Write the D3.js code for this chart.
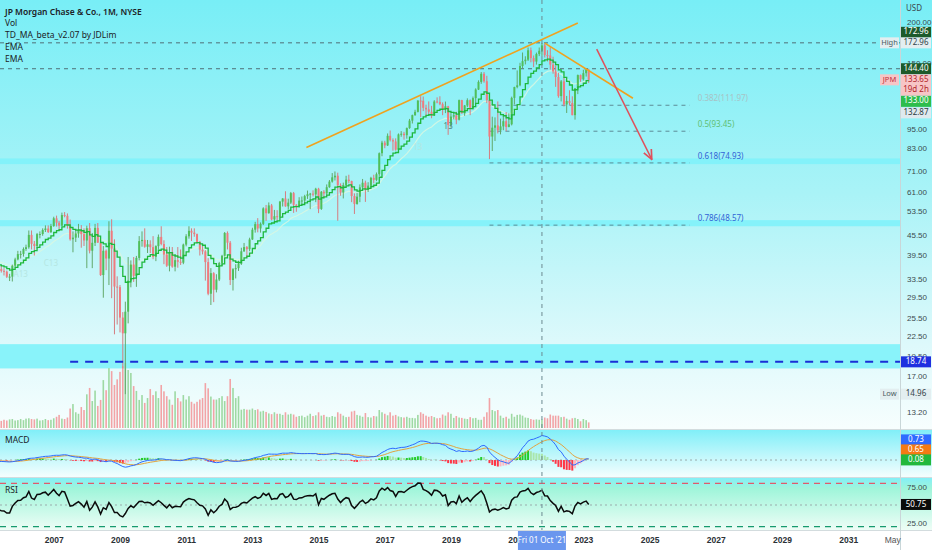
<!DOCTYPE html>
<html>
<head>
<meta charset="utf-8">
<script src="https://cdn.jsdelivr.net/npm/d3@7"></script>
<style>
  body { margin: 0; background: #fff; }
  svg { display: block; font-family: "Noto Sans", "DejaVu Sans", sans-serif; }
</style>
</head>
<body>
<svg id="chart" width="932" height="550"></svg>
<script>
// JPM monthly bars, Jan 2004 .. Mar 2023.
// Bars before May 2005 sit left of the view, they only warm up the indicators.
const firstMonth = new Date(2004, 0, 1);
const firstOpen = 36.7;

const closes = [
  39.0, 41.0, 41.95, 37.6, 36.86, 38.77, 37.33, 38.0, 39.73, 38.59, 37.65, 39.01,
  37.33, 36.56, 34.6, 35.49, 35.75, 35.32, 35.14, 33.89, 33.93, 36.62, 38.25, 39.69,
  39.75, 41.14, 41.64, 45.38, 42.64, 42.0, 45.62, 45.66, 46.96, 47.44, 46.27, 48.3,
  50.93, 49.4, 48.38, 52.1, 51.83, 48.45, 44.01, 44.52, 45.82, 47.0, 45.62, 43.65,
  47.55, 40.65, 42.95, 47.65, 43.0, 34.31, 40.63, 38.49, 46.7, 41.25, 31.66, 31.53,
  25.51, 22.86, 26.58, 33.0, 36.9, 34.11, 38.65, 43.46, 43.82, 41.77, 42.49, 41.67,
  38.94, 41.97, 44.75, 42.58, 39.58, 36.61, 40.28, 36.36, 38.06, 37.63, 37.39, 42.42,
  44.94, 46.69, 46.1, 45.63, 43.24, 40.94, 40.45, 37.56, 30.12, 34.76, 30.97, 33.25,
  37.3, 39.24, 45.98, 42.98, 33.15, 35.73, 36.0, 37.14, 40.48, 41.68, 41.08, 43.97,
  47.05, 48.92, 47.46, 49.01, 54.59, 52.79, 55.73, 50.53, 51.69, 51.54, 57.22, 58.48,
  55.36, 56.82, 60.71, 55.98, 55.57, 57.62, 57.67, 59.45, 60.24, 60.48, 60.16, 62.58,
  54.38, 61.28, 60.58, 63.26, 65.78, 67.76, 68.53, 64.1, 60.97, 64.25, 66.68, 66.03,
  59.5, 56.3, 59.22, 63.2, 65.27, 62.14, 63.97, 67.51, 66.59, 69.26, 80.17, 86.29,
  84.63, 90.5, 87.84, 87.0, 82.15, 91.4, 91.8, 90.89, 95.51, 100.61, 104.52, 106.94,
  115.67, 115.5, 109.97, 108.78, 107.01, 104.2, 114.95, 114.58, 112.84, 109.02, 111.17, 97.62,
  103.5, 104.38, 101.23, 116.05, 105.96, 111.8, 116.0, 109.86, 117.69, 124.92, 131.76, 139.4,
  132.36, 116.11, 90.03, 95.76, 97.31, 94.06, 96.64, 100.19, 96.27, 98.04, 117.88, 127.07,
  128.67, 147.18, 152.23, 153.81, 164.24, 155.54, 151.78, 159.95, 163.69, 169.89, 158.83, 158.35,
  148.6, 141.81, 136.32, 119.36, 132.22, 112.61, 115.36, 113.73, 104.5, 125.88, 138.18, 134.1,
  139.97, 143.35, 133.65
];

const highs = [
  39.8, 42.5, 43.0, 42.5, 38.5, 39.3, 39.4, 38.5, 40.3, 40.5, 39.2, 39.7,
  39.3, 37.5, 36.9, 36.2, 36.5, 36.5, 36.0, 35.4, 34.6, 36.9, 38.7, 40.6,
  40.6, 41.6, 42.4, 46.8, 46.8, 43.5, 46.0, 46.5, 47.5, 48.5, 48.5, 49.0,
  51.5, 51.9, 50.0, 53.0, 53.2, 52.7, 50.5, 46.5, 47.0, 49.0, 48.6, 47.5,
  48.4, 49.3, 46.0, 49.0, 49.3, 43.6, 42.0, 41.0, 49.9, 50.6, 44.0, 34.0,
  32.0, 26.5, 28.5, 38.9, 38.0, 38.9, 39.2, 45.0, 46.5, 47.5, 43.8, 43.7,
  45.0, 42.2, 45.5, 48.2, 43.7, 41.7, 41.8, 41.7, 39.7, 41.7, 41.0, 42.7,
  45.6, 48.2, 47.5, 47.5, 45.8, 43.5, 42.5, 40.8, 38.6, 36.0, 35.0, 34.5,
  37.6, 39.5, 46.3, 46.5, 43.5, 36.0, 37.0, 37.9, 41.5, 42.9, 42.0, 44.5,
  47.7, 49.7, 51.0, 49.5, 55.0, 55.9, 56.9, 56.3, 54.0, 53.9, 57.5, 58.6,
  61.5, 58.4, 61.2, 61.2, 56.2, 59.0, 59.3, 60.0, 61.8, 60.8, 61.9, 63.0,
  63.0, 61.6, 62.0, 64.5, 66.5, 69.8, 70.6, 70.0, 65.0, 65.3, 68.5, 69.0,
  66.2, 60.6, 60.8, 64.5, 67.0, 66.2, 65.5, 68.0, 69.0, 70.1, 80.6, 87.4,
  87.4, 92.0, 93.9, 88.9, 88.9, 92.0, 93.5, 93.0, 95.9, 101.8, 104.9, 108.5,
  116.0, 119.3, 119.0, 112.4, 115.0, 111.5, 116.0, 118.3, 119.2, 114.2, 114.9, 111.5,
  106.0, 106.9, 107.0, 116.5, 116.3, 112.2, 117.5, 116.6, 119.0, 126.0, 133.2, 141.1,
  141.1, 137.5, 118.0, 103.4, 102.9, 115.0, 102.0, 104.0, 106.8, 105.8, 118.9, 127.4,
  142.7, 150.5, 161.7, 157.5, 167.4, 167.4, 158.4, 161.6, 167.4, 172.96, 172.3, 164.3,
  169.0, 157.0, 147.7, 140.4, 133.5, 136.0, 119.5, 124.3, 119.2, 126.3, 138.7, 138.7,
  143.4, 144.34, 144.4
];

const lows = [
  36.3, 38.5, 38.6, 37.4, 35.8, 36.3, 36.5, 36.3, 37.8, 37.8, 36.8, 37.0,
  36.8, 36.0, 34.3, 33.4, 34.3, 34.9, 34.2, 33.6, 32.9, 32.8, 36.2, 38.0,
  38.5, 39.0, 40.6, 41.2, 41.0, 39.3, 41.3, 44.3, 45.1, 46.3, 46.0, 46.0,
  48.0, 48.1, 46.7, 48.3, 51.3, 47.4, 43.6, 40.2, 43.2, 44.5, 41.5, 42.0,
  36.0, 39.9, 36.0, 42.0, 42.9, 34.1, 29.3, 35.5, 32.0, 29.2, 22.7, 24.3,
  23.0, 17.9, 14.96, 24.5, 31.5, 32.7, 31.6, 38.0, 41.8, 41.5, 40.0, 40.0,
  38.3, 37.8, 41.0, 42.2, 37.0, 36.3, 35.2, 36.1, 35.2, 36.1, 36.8, 37.0,
  41.9, 44.2, 43.5, 44.8, 42.8, 39.3, 39.6, 33.0, 29.8, 27.85, 28.4, 30.4,
  32.9, 36.6, 39.0, 41.0, 32.0, 30.8, 33.5, 35.3, 36.8, 40.3, 38.8, 40.5,
  43.8, 46.1, 46.2, 46.1, 48.6, 50.0, 52.6, 50.2, 50.0, 50.1, 51.3, 55.3,
  55.2, 54.2, 56.3, 52.9, 53.3, 54.9, 55.9, 56.2, 58.3, 54.3, 59.3, 57.0,
  52.8, 54.0, 58.6, 59.7, 63.0, 65.3, 66.3, 50.07, 59.6, 58.5, 64.0, 65.0,
  57.0, 52.5, 56.0, 57.0, 62.6, 57.1, 61.2, 63.0, 65.0, 66.0, 68.4, 78.5,
  83.0, 84.3, 87.0, 81.6, 81.6, 81.8, 89.9, 88.1, 88.7, 95.0, 98.6, 104.0,
  106.5, 103.0, 107.5, 104.0, 105.0, 102.3, 103.9, 113.5, 112.0, 104.5, 106.0, 91.1,
  95.9, 101.5, 98.1, 100.7, 105.5, 104.0, 110.5, 104.5, 108.8, 113.1, 124.5, 130.0,
  131.0, 113.6, 76.91, 81.4, 87.3, 92.0, 91.4, 94.1, 93.5, 96.0, 97.3, 112.6,
  126.0, 127.8, 144.5, 148.8, 152.4, 151.0, 146.0, 148.6, 157.7, 157.9, 156.2, 151.9,
  143.5, 139.5, 127.3, 118.0, 115.0, 111.0, 106.1, 112.0, 104.4, 101.3, 121.0, 131.8,
  133.0, 136.7, 130.8
];

// millions of shares per month
const volumes = [
  250, 240, 260, 270, 250, 220, 210, 200, 210, 230, 220, 210,
  220, 200, 230, 230, 210, 190, 220, 200, 230, 240, 200, 210,
  240, 210, 250, 260, 240, 230, 250, 200, 210, 240, 210, 220,
  260, 300, 350, 250, 240, 280, 520, 640, 420, 380, 560, 480,
  900, 1070, 720, 1000, 590, 750, 1280, 1010, 1600, 1520, 1150, 1300,
  1500, 1650, 1740, 1550, 1470, 1120, 990, 750, 880, 670, 800, 1040,
  880, 980, 800, 1150, 980, 850, 760, 620, 980, 800, 710, 880,
  760, 850, 700, 650, 700, 760, 800, 1200, 1060, 840, 760, 760,
  800, 850, 720, 850, 1310, 1070, 800, 850, 490, 510, 490, 490,
  520, 480, 500, 440, 460, 430, 390, 370, 420, 380, 380, 350,
  420, 360, 380, 360, 300, 320, 330, 290, 330, 380, 320, 340,
  420, 330, 350, 300, 290, 320, 300, 420, 380, 330, 290, 300,
  440, 460, 350, 330, 300, 400, 290, 280, 320, 310, 480, 420,
  380, 340, 420, 330, 350, 310, 290, 280, 300, 270, 270, 260,
  350, 420, 380, 330, 300, 320, 290, 260, 270, 360, 330, 420,
  380, 270, 320, 280, 270, 250, 240, 290, 260, 270, 220, 220,
  300, 420, 800, 480, 450, 480, 330, 270, 300, 250, 380, 300,
  350, 360, 330, 280, 270, 240, 220, 230, 220, 230, 280, 260,
  360, 330, 330, 330, 290, 300, 250, 220, 260, 270, 240, 180,
  240, 210, 150
];

const priceTicks = [200, 150, 95, 83, 71, 61, 53.5, 45.5, 39.5, 33.5, 29.5, 25.5, 22.5, 19.5, 17, 13.2];
const yearTicks = [2007, 2009, 2011, 2013, 2015, 2017, 2019, 2021, 2023, 2025, 2027, 2029, 2031];
const rsiTicks = [75, 25];

// drawings on the chart
const fibLevels = ["0.382", "0.5", "0.618", "0.786"];
const fibPrices = [111.97, 93.45, 74.93, 48.57];
const fibStart = new Date(2020, 2, 1), fibEnd = new Date(2026, 2, 20);
const zones = [[74.3, 77.3], [48.2, 50.3], [17.9, 21.2]];
const supportLevel = 18.74, supportStart = new Date(2007, 6, 1);
const allTimeHigh = 172.96, periodLow = 14.96, recentHigh = 144.40;
const upTrend = [[new Date(2014, 7, 20), 83.4], [new Date(2022, 10, 1), 198.6]];
const downTrend = [[new Date(2021, 10, 1), 172.6], [new Date(2024, 6, 1), 117.6]];
const arrowPath = [[new Date(2023, 4, 28), 165.5], [new Date(2025, 0, 25), 76.8]];
const crosshairDate = new Date(2021, 9, 1);
const tdLabels = [
  [new Date(2006, 0, 1), 34.3, "A13"], [new Date(2006, 11, 1), 37.1, "C13"],
  [new Date(2018, 0, 1), 83.1, "13"], [new Date(2018, 11, 1), 96.2, "13"]
];

// last values shown on the scales
const lastClose = 133.65, emaLast = [133.00, 132.87];
const macdLast = ["0.73", "0.65", "0.08"];
const rsiLast = 50.75;

// ---------------------------------------------------------------
const svg = d3.select("#chart");
const W = 900;
const defs = svg.append("defs");

function grad(id, stops) {
  const g = defs.append("linearGradient").attr("id", id)
    .attr("x1", 0).attr("x2", 0).attr("y1", 0).attr("y2", 1);
  stops.forEach(([o, c]) => g.append("stop").attr("offset", o).attr("stop-color", c));
}
grad("bgMain", [[0, "#78eef6"], [0.45, "#a9f3f7"], [0.8, "#ddf9fb"], [1, "#f7fefe"]]);
grad("bgMacd", [[0, "#80eff8"], [1, "#f5fefe"]]);
grad("bgRsi", [[0, "#84eff7"], [0.2, "#9ff5da"], [1, "#eefdf6"]]);

function clip(id, y0, h) {
  defs.append("clipPath").attr("id", id).append("rect")
    .attr("x", 0).attr("y", y0).attr("width", W).attr("height", h);
}
clip("clipMain", 0, 429);
clip("clipMacd", 430, 47);
clip("clipRsi", 478, 52);

svg.append("rect").attr("width", 932).attr("height", 550).attr("fill", "#fff");
svg.append("rect").attr("width", 932).attr("height", 429).attr("fill", "url(#bgMain)");
svg.append("rect").attr("y", 430).attr("width", 932).attr("height", 47).attr("fill", "url(#bgMacd)");
svg.append("rect").attr("y", 478).attr("width", 932).attr("height", 52).attr("fill", "url(#bgRsi)");

// scales
const x = d3.scaleTime().domain([new Date(2005, 4, 18), new Date(2032, 6, 26)]).range([0, W]);
const y = d3.scaleLog().domain([11.82, 233.1]).range([428, 0]);
const yVol = d3.scaleLinear().domain([0, 1870]).range([428, 358]);
const yMacd = d3.scaleLinear().domain([-10.6, 18.75]).range([477, 430]);
const yRsi = d3.scaleLinear().domain([15.3, 87.5]).range([530, 478]);

// bars + indicators
const bars = closes.map((c, i) => ({
  date: d3.timeMonth.offset(firstMonth, i),
  open: i ? closes[i - 1] : firstOpen,
  high: highs[i], low: lows[i], close: c, volume: volumes[i]
}));

function ema(values, n) {
  const k = 2 / (n + 1);
  let prev;
  return values.map((v, i) => (prev = i ? v * k + prev * (1 - k) : v));
}
function rsi(values, n) {
  let ag = 0, al = 0;
  return values.map((v, i) => {
    if (i === 0) return null;
    const ch = v - values[i - 1], g = Math.max(ch, 0), l = Math.max(-ch, 0);
    if (i <= n) { ag += g / n; al += l / n; return i === n ? 100 - 100 / (1 + ag / al) : null; }
    ag = (ag * (n - 1) + g) / n; al = (al * (n - 1) + l) / n;
    return 100 - 100 / (1 + ag / al);
  });
}

const tdLine = ema(closes, 10);
const slowEma = ema(closes, 21);
const e12 = ema(closes, 12), e26 = ema(closes, 26);
const macd = closes.map((c, i) => e12[i] - e26[i]);
const signal = ema(macd, 9);
const hist = macd.map((m, i) => m - signal[i]);
const rsiVals = rsi(closes, 14);

// ---------------- main pane ----------------
const main = svg.append("g").attr("clip-path", "url(#clipMain)");

main.selectAll(".zone").data(zones).enter().append("rect")
  .attr("x", 0).attr("width", W)
  .attr("y", d => y(d[1])).attr("height", d => y(d[0]) - y(d[1]))
  .attr("fill", "#7ff2fa").attr("opacity", 0.9);

[allTimeHigh, recentHigh].forEach(p => {
  main.append("line").attr("x1", 0).attr("x2", W).attr("y1", y(p)).attr("y2", y(p))
    .attr("stroke", "#4f6f76").attr("stroke-width", 1).attr("stroke-dasharray", "4,4");
});

main.selectAll(".fib").data(fibPrices).enter().append("line")
  .attr("x1", x(fibStart)).attr("x2", x(fibEnd))
  .attr("y1", d => y(d)).attr("y2", d => y(d))
  .attr("stroke", "#5d8c96").attr("stroke-width", 1).attr("stroke-dasharray", "4,4");

// volume
main.selectAll(".vol").data(bars).enter().append("rect")
  .attr("x", d => x(d.date) - 0.8).attr("width", 1.6)
  .attr("y", d => yVol(d.volume)).attr("height", d => 428 - yVol(d.volume))
  .attr("fill", d => d.close >= d.open ? "#9ed9a3" : "#f2a3a6");

// slow moving average
main.append("path").datum(bars)
  .attr("fill", "none").attr("stroke", "#d9f7e2").attr("stroke-width", 1.2).attr("opacity", 0.85)
  .attr("d", d3.line().x(d => x(d.date)).y((d, i) => y(slowEma[i])));

// candles
const candle = main.selectAll(".candle").data(bars).enter().append("g");
candle.append("line")
  .attr("x1", d => x(d.date)).attr("x2", d => x(d.date))
  .attr("y1", d => y(d.high)).attr("y2", d => y(d.low))
  .attr("stroke", d => d.close >= d.open ? "#62a86a" : "#d57d80").attr("stroke-width", 1);
candle.append("rect")
  .attr("x", d => x(d.date) - 1).attr("width", 2)
  .attr("y", d => y(Math.max(d.open, d.close)))
  .attr("height", d => Math.max(1, y(Math.min(d.open, d.close)) - y(Math.max(d.open, d.close))))
  .attr("fill", d => d.close >= d.open ? "#4fbf5a" : "#f07a7e");

// TD_MA stepped line
main.append("path").datum(bars)
  .attr("fill", "none").attr("stroke", "#1eb83c").attr("stroke-width", 1.3)
  .attr("d", d3.line().curve(d3.curveStepAfter).x(d => x(d.date)).y((d, i) => y(tdLine[i])));

main.append("line")
  .attr("x1", x(supportStart)).attr("x2", W).attr("y1", y(supportLevel)).attr("y2", y(supportLevel))
  .attr("stroke", "#1a2fd6").attr("stroke-width", 2).attr("stroke-dasharray", "8,7");

// trend lines + arrow
const tl = d3.line().x(d => x(d[0])).y(d => y(d[1]));
[upTrend, downTrend].forEach(t => {
  main.append("path").datum(t).attr("d", tl)
    .attr("stroke", "#f0a21e").attr("stroke-width", 1.6).attr("fill", "none");
});
defs.append("marker").attr("id", "arrow").attr("viewBox", "0 0 10 10")
  .attr("refX", 9).attr("refY", 5).attr("markerWidth", 7).attr("markerHeight", 7)
  .attr("orient", "auto-start-reverse")
  .append("path").attr("d", "M0,1 L9,5 L0,9").attr("fill", "none")
  .attr("stroke", "#e0505c").attr("stroke-width", 1.6);
main.append("path").datum(arrowPath).attr("d", tl)
  .attr("stroke", "#e0505c").attr("stroke-width", 1.5).attr("fill", "none")
  .attr("marker-end", "url(#arrow)");

// TD count labels
main.selectAll(".td").data(tdLabels).enter().append("text")
  .attr("x", d => x(d[0])).attr("y", d => y(d[1]))
  .attr("text-anchor", "middle").attr("dominant-baseline", "middle")
  .attr("font-size", 8).attr("fill", (d, i) => i === 3 ? "#4f8a84" : "#b5e6e2")
  .text(d => d[2]);

// fib labels
const fibColors = ["#a7c3c6", "#5fbf74", "#2f63d6", "#2f63d6"];
svg.selectAll(".fibLbl").data(fibPrices).enter().append("text")
  .attr("x", x(fibEnd) + 8).attr("y", d => y(d) - 6.5)
  .attr("dominant-baseline", "middle").attr("font-size", 8)
  .attr("fill", (d, i) => fibColors[i])
  .text((d, i) => `${fibLevels[i]}(${d.toFixed(2)})`);

// ---------------- MACD pane ----------------
const mp = svg.append("g").attr("clip-path", "url(#clipMacd)");
mp.append("line").attr("x1", 0).attr("x2", W).attr("y1", yMacd(0)).attr("y2", yMacd(0))
  .attr("stroke", "#9aabab").attr("stroke-dasharray", "2,3");
mp.selectAll(".hist").data(hist).enter().append("rect")
  .attr("x", (d, i) => x(bars[i].date) - 1).attr("width", 2)
  .attr("y", d => Math.min(yMacd(d), yMacd(0)))
  .attr("height", d => Math.abs(yMacd(d) - yMacd(0)))
  .attr("fill", (d, i) => {
    const prev = i ? hist[i - 1] : d;
    if (d >= 0) return d >= prev ? "#22cc2a" : "#a9e6ab";
    return d < prev ? "#ff3646" : "#ffb6c0";
  });
mp.append("path").datum(signal).attr("fill", "none").attr("stroke", "#e3a33e").attr("stroke-width", 1)
  .attr("d", d3.line().x((d, i) => x(bars[i].date)).y(d => yMacd(d)));
mp.append("path").datum(macd).attr("fill", "none").attr("stroke", "#2f6bff").attr("stroke-width", 1)
  .attr("d", d3.line().x((d, i) => x(bars[i].date)).y(d => yMacd(d)));

// ---------------- RSI pane ----------------
const rp = svg.append("g").attr("clip-path", "url(#clipRsi)");
rp.append("line").attr("x1", 0).attr("x2", W).attr("y1", yRsi(80)).attr("y2", yRsi(80))
  .attr("stroke", "#e05a6c").attr("stroke-width", 1.2).attr("stroke-dasharray", "6,5");
rp.append("line").attr("x1", 0).attr("x2", W).attr("y1", yRsi(20)).attr("y2", yRsi(20))
  .attr("stroke", "#169a6e").attr("stroke-width", 1.2).attr("stroke-dasharray", "6,5");
rp.append("line").attr("x1", 0).attr("x2", W).attr("y1", yRsi(50)).attr("y2", yRsi(50))
  .attr("stroke", "#9aabab").attr("stroke-dasharray", "2,3");
rp.append("path").datum(rsiVals).attr("fill", "none").attr("stroke", "#0b0b0b").attr("stroke-width", 1.5)
  .attr("d", d3.line().defined(d => d !== null).x((d, i) => x(bars[i].date)).y(d => yRsi(d)));

// crosshair
svg.append("line").attr("x1", x(crosshairDate)).attr("x2", x(crosshairDate))
  .attr("y1", 0).attr("y2", 531)
  .attr("stroke", "#6b8a90").attr("stroke-dasharray", "4,4");

// pane separators
[429.5, 477.5, 530.5].forEach(v => {
  svg.append("line").attr("x1", 0).attr("x2", 932).attr("y1", v).attr("y2", v)
    .attr("stroke", "#d3dcde").attr("stroke-width", 1);
});
svg.append("line").attr("x1", W + 0.5).attr("x2", W + 0.5).attr("y1", 0).attr("y2", 550)
  .attr("stroke", "#c9d6d8");

// ---------------- right scales ----------------
function styleAxis(g) {
  g.select(".domain").remove();
  g.selectAll("text").attr("font-size", 8).attr("fill", "#3b4a4e").attr("font-family", null);
}
svg.append("g").attr("transform", `translate(${W + 4},0)`)
  .call(d3.axisRight(y).tickValues(priceTicks).tickFormat(d3.format(".2f")).tickSize(0))
  .call(styleAxis);
svg.append("g").attr("transform", `translate(${W + 4},0)`)
  .call(d3.axisRight(yRsi).tickValues(rsiTicks).tickFormat(d3.format(".2f")).tickSize(0))
  .call(styleAxis);
svg.append("text").attr("x", W + 6).attr("y", 9).attr("font-size", 8).attr("fill", "#3b4a4e")
  .attr("dominant-baseline", "middle").text("USD");

function valueBox(cy, text, bg, fg, h = 11) {
  svg.append("rect").attr("x", W + 1).attr("y", cy - h / 2).attr("width", 30).attr("height", h).attr("fill", bg);
  svg.append("text").attr("x", W + 16).attr("y", cy).attr("text-anchor", "middle")
    .attr("dominant-baseline", "middle").attr("font-size", 8).attr("fill", fg).text(text);
}
function tagBox(cy, text, bg, fg) {
  svg.append("rect").attr("x", W - 20).attr("y", cy - 5.5).attr("width", 19).attr("height", 11).attr("fill", bg);
  svg.append("text").attr("x", W - 10.5).attr("y", cy).attr("text-anchor", "middle")
    .attr("dominant-baseline", "middle").attr("font-size", 7.5).attr("fill", fg).text(text);
}
const f2 = d3.format(".2f");
valueBox(y(allTimeHigh) - 10.5, f2(allTimeHigh), "#1d5a2a", "#fff");
valueBox(y(allTimeHigh), f2(allTimeHigh), "#e3eef0", "#33444a");
tagBox(y(allTimeHigh), "High", "#e3eef0", "#4a5a60");
valueBox(y(recentHigh), f2(recentHigh), "#1d5a2a", "#fff");
// last price with countdown
svg.append("rect").attr("x", W + 1).attr("y", y(lastClose) - 5.5).attr("width", 30).attr("height", 21.5).attr("fill", "#f7c5c6");
svg.append("text").attr("x", W + 16).attr("y", y(lastClose)).attr("text-anchor", "middle")
  .attr("dominant-baseline", "middle").attr("font-size", 8).attr("fill", "#b3262c").text(f2(lastClose));
svg.append("text").attr("x", W + 16).attr("y", y(lastClose) + 10).attr("text-anchor", "middle")
  .attr("dominant-baseline", "middle").attr("font-size", 8).attr("fill", "#b3262c").text("19d 2h");
tagBox(y(lastClose), "JPM", "#f7c5c6", "#c0303a");
valueBox(y(lastClose) + 21.5, f2(emaLast[0]), "#2fbd4c", "#fff");
valueBox(y(lastClose) + 33, f2(emaLast[1]), "#dfe9ee", "#2d3a40");
valueBox(y(supportLevel), f2(supportLevel), "#1f2fe0", "#fff");
valueBox(y(periodLow), f2(periodLow), "#e3eef0", "#33444a");
tagBox(y(periodLow), "Low", "#e3eef0", "#4a5a60");

const histY = yMacd(+macdLast[2]);
valueBox(histY - 20, macdLast[0], "#2f6bff", "#fff");
valueBox(histY - 10, macdLast[1], "#f57a14", "#fff");
valueBox(histY, macdLast[2], "#22b83c", "#fff");
valueBox(yRsi(rsiLast), f2(rsiLast), "#0b0b0b", "#fff");

// ---------------- time axis ----------------
const timeTicks = yearTicks.map(v => new Date(v, 0, 1)).concat([new Date(2032, 4, 1)]);
const xa = svg.append("g").attr("transform", "translate(0,534)")
  .call(d3.axisBottom(x).tickValues(timeTicks).tickSize(0)
    .tickFormat(d => d.getMonth() === 4 ? "May" : d.getFullYear()));
xa.select(".domain").remove();
xa.selectAll("text").attr("font-size", 8.5).attr("font-weight", 600).attr("fill", "#2a3136").attr("font-family", null);
xa.selectAll("text").filter(d => d.getMonth() === 4).attr("font-weight", 400).attr("fill", "#555");

svg.append("rect").attr("x", x(crosshairDate) - 24).attr("y", 531).attr("width", 48).attr("height", 19)
  .attr("fill", "#6a96ee");
svg.append("text").attr("x", x(crosshairDate)).attr("y", 541).attr("text-anchor", "middle")
  .attr("dominant-baseline", "middle").attr("font-size", 8).attr("fill", "#fff")
  .text(d3.timeFormat("%a %d %b '%y")(crosshairDate));

// ---------------- legend ----------------
const legend = ["JP Morgan Chase & Co., 1M, NYSE", "Vol", "TD_MA_beta_v2.07 by JDLim", "EMA", "EMA"];
svg.selectAll(".legend").data(legend).enter().append("text")
  .attr("x", 5).attr("y", (d, i) => [12.5, 24, 35.5, 48, 60][i])
  .attr("dominant-baseline", "middle").attr("font-size", 8.5)
  .attr("font-weight", (d, i) => i === 0 ? 600 : 400)
  .attr("fill", "#1c2226").text(d => d);
svg.append("text").attr("x", 5).attr("y", 441).attr("dominant-baseline", "middle")
  .attr("font-size", 8.5).attr("fill", "#1c2226").text("MACD");
svg.append("text").attr("x", 5).attr("y", 491).attr("dominant-baseline", "middle")
  .attr("font-size", 8.5).attr("fill", "#1c2226").text("RSI");
</script>
</body>
</html>
